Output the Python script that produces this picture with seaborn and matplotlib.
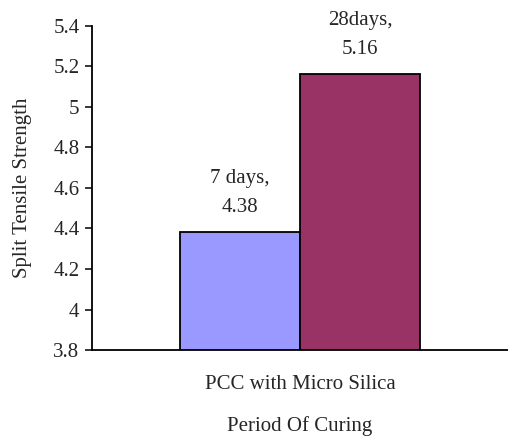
import pandas as pd
import matplotlib
matplotlib.use("Agg")
import matplotlib.pyplot as plt
import seaborn as sns

# Données
categories = ["PCC with Micro Silica", "PCC with Micro Silica"]
periods = ["7 days", "28days"]
strength = [4.38, 5.16]
bar_colors = ["#9999FF", "#993366"]
yticks = [3.8, 4.0, 4.2, 4.4, 4.6, 4.8, 5.0, 5.2, 5.4]
ytick_labels = ["3.8", "4", "4.2", "4.4", "4.6", "4.8", "5", "5.2", "5.4"]

df = pd.DataFrame({"Category": categories, "Period": periods, "Strength": strength})

sns.set_style("white")
plt.rcParams["font.family"] = ["Liberation Serif", "DejaVu Serif"]

fig = plt.figure(figsize=(5.08, 4.37), dpi=100)
ax = fig.add_axes([0.181, 0.199, 0.819, 0.742])

sns.barplot(data=df, x="Category", y="Strength", hue="Period", hue_order=periods,
            palette=bar_colors, saturation=1, width=0.577, edgecolor="black",
            linewidth=1.3, legend=False, ax=ax, zorder=2)

ax.set_ylim(3.8, 5.4)
ax.set_xlim(-0.5, 0.5)
ax.set_yticks(yticks)
ax.set_yticklabels(ytick_labels, fontsize=15)
ax.tick_params(axis="y", direction="out", length=5, width=1.3, left=True, pad=4)
ax.tick_params(axis="x", length=0, labelsize=15, pad=18)

# étiquettes au-dessus des barres
for patch, period, val in zip(ax.patches, periods, strength):
    cx = patch.get_x() + patch.get_width() / 2
    ax.annotate(f"{period},\n{val:.2f}", (cx, val), xytext=(0, 11),
                textcoords="offset points", ha="center", va="bottom",
                fontsize=15, linespacing=1.7, annotation_clip=False)

ax.set_ylabel("Split Tensile Strength", fontsize=15, labelpad=15)
ax.set_xlabel("Period Of Curing", fontsize=15, labelpad=16)

sns.despine(ax=ax, top=True, right=True)
for side in ["left", "bottom"]:
    ax.spines[side].set_linewidth(1.3)
    ax.spines[side].set_color("black")

fig.savefig("out.png", dpi=100)
plt.close(fig)
